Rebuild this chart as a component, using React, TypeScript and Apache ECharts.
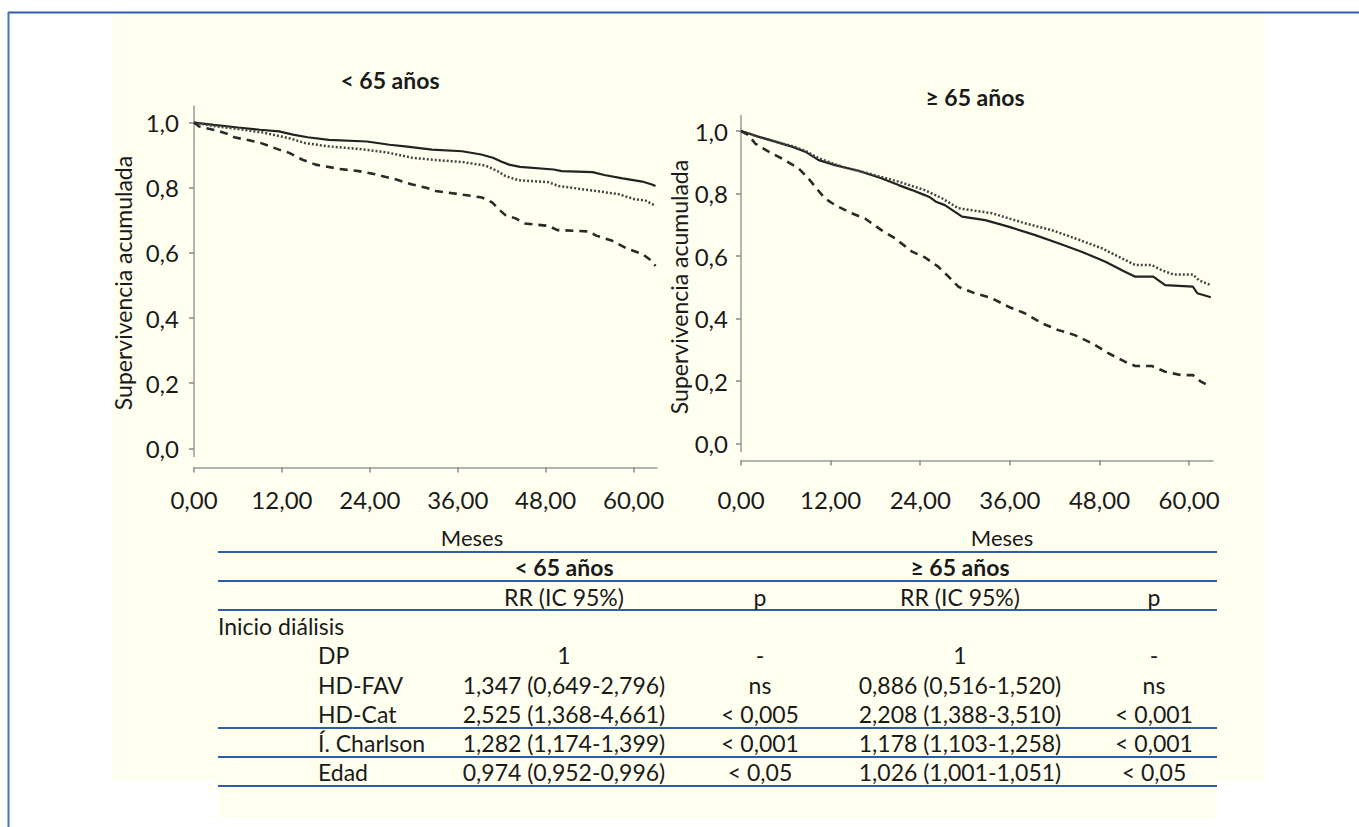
import React, { useEffect, useRef } from "react";
import * as echarts from "echarts";

// ---------- axis ticks ----------
const monthTicks = [0, 12, 24, 36, 48, 60];
const survTicks = [0, 0.2, 0.4, 0.6, 0.8, 1.0];

// ---------- < 65 años ----------
const youngDPMonths = [0, 2.7, 6, 9, 11.6, 13.5, 15.5, 18.4, 23.6, 26.7, 28.8, 32.5, 36.6, 39.2, 40.8, 42, 43, 44.5, 49.1, 50.2, 54.4, 56, 58.5, 61.2, 62.5, 63];
const youngDPSurv = [1.0, 0.993, 0.985, 0.978, 0.973, 0.963, 0.955, 0.947, 0.942, 0.932, 0.927, 0.917, 0.912, 0.902, 0.892, 0.88, 0.871, 0.864, 0.856, 0.851, 0.848, 0.839, 0.829, 0.819, 0.81, 0.805];

const youngFAVMonths = [0, 2.5, 6, 9.3, 13, 15.2, 18.4, 22.5, 26.2, 29.8, 33, 36.6, 39.8, 41.5, 42.5, 44.3, 48.4, 49.8, 54.9, 58, 60.1, 61.7, 62.5, 63];
const youngFAVSurv = [1.0, 0.99, 0.98, 0.97, 0.952, 0.937, 0.927, 0.919, 0.909, 0.892, 0.885, 0.879, 0.868, 0.85, 0.836, 0.823, 0.817, 0.805, 0.79, 0.78, 0.765, 0.76, 0.75, 0.745];

const youngCatMonths = [0, 0.7, 3, 4.5, 5.5, 8.9, 11.6, 13, 14.8, 16.6, 19.8, 22.5, 24.8, 26.2, 27.5, 29.8, 31.7, 33, 37.9, 39.3, 40.7, 41.6, 42.5, 43.9, 45.2, 48.4, 49.6, 53.9, 54.9, 57, 59.1, 61.2, 62.5, 63];
const youngCatSurv = [1.0, 0.988, 0.976, 0.966, 0.955, 0.939, 0.917, 0.907, 0.886, 0.871, 0.858, 0.851, 0.841, 0.833, 0.826, 0.81, 0.8, 0.79, 0.775, 0.77, 0.755, 0.734, 0.716, 0.706, 0.69, 0.683, 0.67, 0.666, 0.653, 0.638, 0.613, 0.597, 0.575, 0.56];

// ---------- >= 65 años ----------
const oldDPMonths = [0, 2.3, 4.6, 6.8, 8.6, 10.4, 12.6, 15.7, 18.8, 21.1, 22.9, 24.6, 25.3, 26.1, 27.3, 29.6, 32.7, 35.8, 39.4, 42.5, 45.6, 48.8, 51.4, 52.8, 55.2, 56.8, 60.5, 61.1, 62.9];
const oldDPSurv = [1.0, 0.982, 0.966, 0.95, 0.934, 0.907, 0.891, 0.873, 0.849, 0.827, 0.811, 0.795, 0.788, 0.774, 0.763, 0.726, 0.715, 0.694, 0.667, 0.641, 0.614, 0.582, 0.55, 0.534, 0.534, 0.507, 0.502, 0.481, 0.468];

const oldFAVMonths = [0, 2.3, 4.6, 6.8, 8.6, 10.4, 13.5, 17.9, 21.1, 24.6, 26.9, 29.1, 33.6, 38, 41.6, 44.7, 48.3, 51.9, 52.8, 55, 56.3, 57.9, 60.5, 61.3, 62.9];
const oldFAVSurv = [1.0, 0.982, 0.966, 0.952, 0.937, 0.913, 0.886, 0.859, 0.838, 0.811, 0.785, 0.753, 0.737, 0.705, 0.683, 0.657, 0.625, 0.582, 0.571, 0.571, 0.555, 0.541, 0.541, 0.523, 0.507];

const oldCatMonths = [0, 1, 1.9, 3.7, 5.4, 7.7, 9, 10.1, 11.2, 12.6, 14.8, 16.6, 18.8, 20.6, 22.9, 24.6, 26.4, 27.8, 29.1, 31.3, 33.6, 35.8, 38, 40.3, 42.5, 44.7, 47, 49.2, 51.4, 52.8, 55, 56.8, 58.9, 60.5, 61.6, 62.9];
const oldCatSurv = [1.0, 0.987, 0.96, 0.934, 0.913, 0.881, 0.849, 0.817, 0.785, 0.763, 0.737, 0.72, 0.683, 0.657, 0.614, 0.596, 0.566, 0.534, 0.502, 0.481, 0.465, 0.438, 0.417, 0.385, 0.363, 0.347, 0.321, 0.289, 0.262, 0.248, 0.248, 0.23, 0.219, 0.219, 0.198, 0.182];

// ---------- table ----------
const groupTitles = ["< 65 años", "≥ 65 años"];
const colHeaders = ["RR (IC 95%)", "p", "RR (IC 95%)", "p"];
const sectionLabel = "Inicio diálisis";
const rowLabels = ["DP", "HD-FAV", "HD-Cat", "Í. Charlson", "Edad"];
const rrYoung = ["1", "1,347 (0,649-2,796)", "2,525 (1,368-4,661)", "1,282 (1,174-1,399)", "0,974 (0,952-0,996)"];
const pYoung = ["-", "ns", "< 0,005", "< 0,001", "< 0,05"];
const rrOld = ["1", "0,886 (0,516-1,520)", "2,208 (1,388-3,510)", "1,178 (1,103-1,258)", "1,026 (1,001-1,051)"];
const pOld = ["-", "ns", "< 0,001", "< 0,001", "< 0,05"];

const FONT = "Lato, 'Open Sans', 'DejaVu Sans', sans-serif";
const TEXT = "#1a1a1a";
const BLUE = "#2f5ca9";

const pairs = (xs: number[], ys: number[]) => xs.map((x, i) => [x, ys[i]]);
const fmtComma = (v: number, d: number) => v.toFixed(d).replace(".", ",");

function txt(text: string, x: number, y: number, align = "center", extra: any = {}) {
  return {
    type: "text",
    x,
    y,
    silent: true,
    z: 10,
    style: {
      text,
      fill: TEXT,
      fontSize: 23,
      fontFamily: FONT,
      fontWeight: "normal",
      align,
      textAlign: align,
      verticalAlign: "middle",
      textVerticalAlign: "middle",
      ...extra,
    },
  };
}

function hline(x1: number, x2: number, y: number, color = BLUE, w = 2) {
  return {
    type: "line",
    silent: true,
    z: 5,
    shape: { x1, y1: y, x2, y2: y },
    style: { stroke: color, lineWidth: w },
  };
}

function buildOption() {
  const axisLineStyle = { color: "#9a9a9a", width: 1.5 };
  const makeX = (gridIndex: number, offset: number, margin: number) => ({
    type: "value",
    gridIndex,
    min: 0,
    max: 63.2,
    offset,
    axisLine: { show: true, onZero: false, lineStyle: axisLineStyle },
    axisTick: { show: true, length: 5, customValues: monthTicks, lineStyle: { color: "#888", width: 1.5 } },
    axisLabel: {
      customValues: monthTicks,
      formatter: (v: number) => fmtComma(v, 2),
      margin,
      fontSize: 24,
      fontFamily: FONT,
      color: TEXT,
    },
    splitLine: { show: false },
  });
  const makeY = (gridIndex: number, margin: number) => ({
    type: "value",
    gridIndex,
    min: -0.025,
    max: 1.05,
    axisLine: { show: true, onZero: false, lineStyle: axisLineStyle },
    axisTick: { show: true, length: 5, customValues: survTicks, lineStyle: { color: "#888", width: 1.5 } },
    axisLabel: {
      customValues: survTicks,
      formatter: (v: number) => fmtComma(v, 1),
      margin,
      fontSize: 24,
      fontFamily: FONT,
      color: TEXT,
    },
    splitLine: { show: false },
  });

  const solid = { color: "#222", width: 2.2, type: "solid" };
  const dotted = { color: "#444", width: 2.5, type: [2, 2] };
  const dashed = { color: "#2a2a2a", width: 2.6, type: [8, 6] };

  const line = (name: string, idx: number, data: number[][], ls: any) => ({
    name,
    type: "line",
    xAxisIndex: idx,
    yAxisIndex: idx,
    data,
    showSymbol: false,
    symbol: "none",
    lineStyle: ls,
    z: 3,
  });

  // table geometry
  const tX1 = 218;
  const tX2 = 1217;
  const colRR1 = 564;
  const colP1 = 760;
  const colRR2 = 960;
  const colP2 = 1154;
  const rowLabelX = 318;
  const rowYs = [655, 684.5, 713.5, 742.75, 772];

  const graphics: any[] = [
    { type: "rect", silent: true, z: -10, shape: { x: 113, y: 14, width: 1152, height: 766 }, style: { fill: "#fffff0" } },
    { type: "rect", silent: true, z: -10, shape: { x: 218, y: 780, width: 999, height: 38 }, style: { fill: "#fffff0" } },
    { type: "line", silent: true, z: 5, shape: { x1: 8, y1: 12.5, x2: 1359, y2: 12.5 }, style: { stroke: BLUE, lineWidth: 2 } },
    { type: "line", silent: true, z: 5, shape: { x1: 8.5, y1: 12, x2: 8.5, y2: 827 }, style: { stroke: "#4a72b8", lineWidth: 2 } },
    // plot titles
    txt(groupTitles[0], 390, 80, "center", { fontWeight: "bold" }),
    txt(groupTitles[1], 975, 97, "center", { fontWeight: "bold" }),
    // x-axis names
    txt("Meses", 472, 537, "center", { fontSize: 22 }),
    txt("Meses", 1002, 537, "center", { fontSize: 22 }),
    // y-axis names
    { ...txt("Supervivencia acumulada", 123, 283, "center", { fontSize: 23 }), rotation: Math.PI / 2 },
    { ...txt("Supervivencia acumulada", 679, 287, "center", { fontSize: 23 }), rotation: Math.PI / 2 },
    // table lines
    hline(tX1, tX2, 552),
    hline(tX1, tX2, 581),
    hline(tX1, tX2, 610),
    hline(tX1, tX2, 728),
    hline(tX1, tX2, 757),
    hline(tX1, tX2, 786),
    // table headers
    txt(groupTitles[0], colRR1, 567, "center", { fontWeight: "bold" }),
    txt(groupTitles[1], colRR2, 567, "center", { fontWeight: "bold" }),
    txt(colHeaders[0], colRR1, 597),
    txt(colHeaders[1], colP1, 597),
    txt(colHeaders[2], colRR2, 597),
    txt(colHeaders[3], colP2, 597),
    txt(sectionLabel, tX1, 626, "left"),
  ];
  rowLabels.forEach((lab, i) => {
    const y = rowYs[i];
    graphics.push(txt(lab, rowLabelX, y, "left"));
    graphics.push(txt(rrYoung[i], colRR1, y));
    graphics.push(txt(pYoung[i], colP1, y));
    graphics.push(txt(rrOld[i], colRR2, y));
    graphics.push(txt(pOld[i], colP2, y));
  });

  return {
    animation: false,
    backgroundColor: "#ffffff",
    textStyle: { fontFamily: FONT },
    grid: [
      { left: 194, top: 106.3, width: 463, height: 350.2, containLabel: false, outerBoundsMode: "none" },
      { left: 741, top: 115.4, width: 472, height: 336, containLabel: false, outerBoundsMode: "none" },
    ],
    xAxis: [makeX(0, 11, 20), makeX(1, 9, 27)],
    yAxis: [makeY(0, 15), makeY(1, 13)],
    series: [
      line("DP (< 65)", 0, pairs(youngDPMonths, youngDPSurv), solid),
      line("HD-FAV (< 65)", 0, pairs(youngFAVMonths, youngFAVSurv), dotted),
      line("HD-Cat (< 65)", 0, pairs(youngCatMonths, youngCatSurv), dashed),
      line("DP (≥ 65)", 1, pairs(oldDPMonths, oldDPSurv), solid),
      line("HD-FAV (≥ 65)", 1, pairs(oldFAVMonths, oldFAVSurv), dotted),
      line("HD-Cat (≥ 65)", 1, pairs(oldCatMonths, oldCatSurv), dashed),
    ],
    graphic: graphics,
  };
}

export default function App() {
  const ref = useRef<HTMLDivElement>(null);
  useEffect(() => {
    if (!ref.current) return;
    const chart = echarts.init(ref.current, null, { renderer: "svg" });
    chart.setOption(buildOption() as any);
    return () => chart.dispose();
  }, []);
  return (
    <div
      ref={ref}
      style={{ position: "absolute", left: 0, top: 0, width: 1359, height: 827 }}
    />
  );
}
